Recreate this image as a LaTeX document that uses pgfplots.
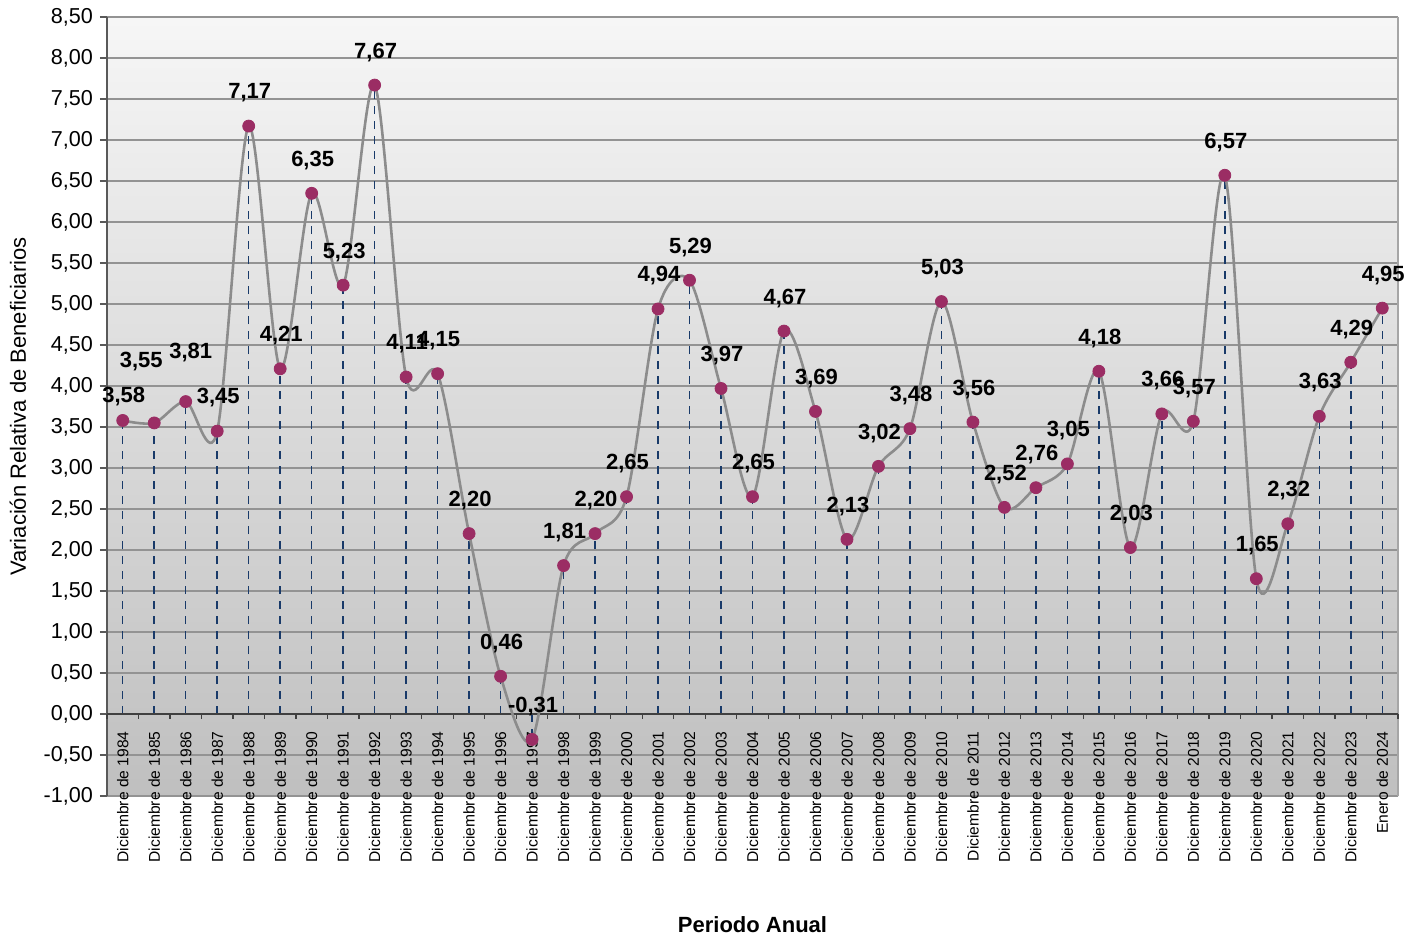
\documentclass[border=0pt]{standalone}
\usepackage{pgfplots}
\usepackage{pgfplotstable}
\pgfplotsset{compat=1.18}
\usepackage{fontspec}
\setmainfont{Liberation Sans}
\definecolor{mk}{RGB}{155,45,100}
\definecolor{drop}{RGB}{25,58,105}
\pgfplotstableread{
x y lab dx dy
0 3.58 3,58 0.5 12
1 3.55 3,55 -6.5 30.5
2 3.81 3,81 2.5 24.5
3 3.45 3,45 0.5 17
4 7.17 7,17 0.5 16.5
5 4.21 4,21 0.5 16.5
6 6.35 6,35 0.5 16.5
7 5.23 5,23 0.5 16.5
8 7.67 7,67 0.5 16.5
9 4.11 4,11 0.5 16.5
10 4.15 4,15 0.5 16.5
11 2.20 2,20 0.5 16.5
12 0.46 0,46 0.5 16.5
13 -0.31 -0,31 0.5 16.5
14 1.81 1,81 0.5 16.5
15 2.20 2,20 0.5 16.5
16 2.65 2,65 0.5 16.5
17 4.94 4,94 0.5 16.5
18 5.29 5,29 0.5 16.5
19 3.97 3,97 0.5 16.5
20 2.65 2,65 0.5 16.5
21 4.67 4,67 0.5 16.5
22 3.69 3,69 0.5 16.5
23 2.13 2,13 0.5 16.5
24 3.02 3,02 0.5 16.5
25 3.48 3,48 0.5 16.5
26 5.03 5,03 0.5 16.5
27 3.56 3,56 0.5 16.5
28 2.52 2,52 0.5 16.5
29 2.76 2,76 0.5 16.5
30 3.05 3,05 0.5 16.5
31 4.18 4,18 0.5 16.5
32 2.03 2,03 0.5 16.5
33 3.66 3,66 0.5 16.5
34 3.57 3,57 0.5 16.5
35 6.57 6,57 0.5 16.5
36 1.65 1,65 0.5 16.5
37 2.32 2,32 0.5 16.5
38 3.63 3,63 0.5 17
39 4.29 4,29 0.5 16.5
40 4.95 4,95 0.5 16.5
}\datatable
\begin{document}
\begin{tikzpicture}
\useasboundingbox (-53.5pt,-71.5pt) rectangle (655.5pt,398pt);
\begin{axis}[
  at={(0,0)}, anchor=south west,
  scale only axis, width=645.5pt, height=389.5pt,
  xmin=-0.5, xmax=40.5, ymin=-1, ymax=8.5,
  axis x line=middle, axis y line=left,
  axis line style={-, draw=black!65, line width=0.8pt},
  axis background/.style={top color=gray!7, bottom color=gray!50},
  ytick distance=0.5,
  ymajorgrids=true,
  grid style={gray!85, line width=0.6pt},
  tick align=outside,
  major tick length=3.5pt,
  tick style={black!65, line width=0.6pt},
  xtick style={draw=none},
  xtick={0,...,40},
  xticklabels={Diciembre de 1984,Diciembre de 1985,Diciembre de 1986,Diciembre de 1987,Diciembre de 1988,Diciembre de 1989,Diciembre de 1990,Diciembre de 1991,Diciembre de 1992,Diciembre de 1993,Diciembre de 1994,Diciembre de 1995,Diciembre de 1996,Diciembre de 1997,Diciembre de 1998,Diciembre de 1999,Diciembre de 2000,Diciembre de 2001,Diciembre de 2002,Diciembre de 2003,Diciembre de 2004,Diciembre de 2005,Diciembre de 2006,Diciembre de 2007,Diciembre de 2008,Diciembre de 2009,Diciembre de 2010,Diciembre de 2011,Diciembre de 2012,Diciembre de 2013,Diciembre de 2014,Diciembre de 2015,Diciembre de 2016,Diciembre de 2017,Diciembre de 2018,Diciembre de 2019,Diciembre de 2020,Diciembre de 2021,Diciembre de 2022,Diciembre de 2023,Enero de 2024},
  xticklabel shift=5pt,
  xticklabel style={rotate=90, anchor=east, font=\fontsize{7.8}{8}\selectfont, inner sep=0pt},
  yticklabel style={font=\fontsize{10.8}{12}\selectfont},
  /pgf/number format/.cd, fixed, fixed zerofill, precision=2, use comma, assume math mode=true,
  /pgfplots/.cd,
  ylabel={Variación Relativa de Beneficiarios},
  ylabel style={at={(axis description cs:-0.069,0.5)}, anchor=center, font=\fontsize{11}{12}\selectfont},
  xlabel={\textbf{Periodo Anual}},
  xlabel style={at={(axis description cs:0.5,-0.1656)}, anchor=center, font=\fontsize{11}{12}\selectfont},
  clip=false,
]
\draw[gray!70, line width=0.6pt] (rel axis cs:1,0) -- (rel axis cs:1,1);
\addplot[ycomb, drop, dash pattern=on 4pt off 3.5pt, line width=0.75pt, no markers] table[x=x,y=y]{\datatable};
\draw[black!75, line width=0.8pt] (axis cs:-0.5,0) -- (axis cs:40.5,0);
\pgfplotsinvokeforeach{-0.5,0.5,...,40.5}{
  \draw[black!75, line width=0.6pt] (axis cs:#1,0) -- ([yshift=-2.5pt]axis cs:#1,0);
}
\addplot[smooth, black!45, line width=1.3pt, no markers] table[x=x,y=y]{\datatable};
\addplot[only marks, mark=*, mark size=3pt, mark options={draw=mk, fill=mk},
  nodes near coords, point meta=explicit symbolic,
  visualization depends on={\thisrow{dx}\as\labdx},
  visualization depends on={\thisrow{dy}\as\labdy},
  nodes near coords style={anchor=center, xshift=\labdx pt, yshift=\labdy pt, font=\bfseries\fontsize{11}{12}\selectfont, text=black}]
  table[x=x,y=y,meta=lab]{\datatable};
\end{axis}
\end{tikzpicture}
\end{document}
